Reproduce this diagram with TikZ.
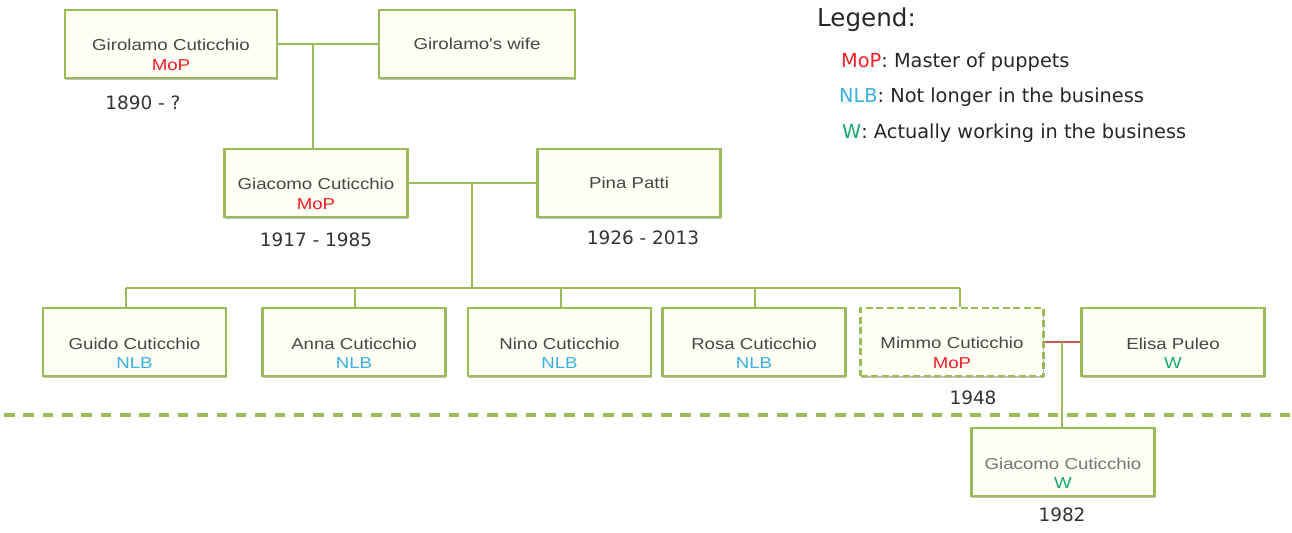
\documentclass[tikz,border=0pt]{standalone}
\usepackage{fontspec}
\setmainfont{Liberation Sans}
\newfontfamily\boxfont[FakeStretch=1.18]{Liberation Sans}
\newfontfamily\legfont{DejaVu Sans}
\usetikzlibrary{shadows}
\definecolor{boxgreen}{RGB}{155,187,89}
\definecolor{boxfill}{RGB}{255,255,246}
\definecolor{mopred}{RGB}{240,30,40}
\definecolor{nlbblue}{RGB}{60,176,226}
\definecolor{wgreen}{RGB}{20,168,110}
\definecolor{txtgray}{RGB}{70,70,70}
\definecolor{linkred}{RGB}{200,90,80}
\tikzset{
  person/.style={draw=boxgreen, line width=1.3pt, fill=boxfill, minimum width=3.66cm,
    minimum height=1.36cm, align=center, text=txtgray,
    font=\boxfont\fontsize{9}{11}\selectfont,
    drop shadow={shadow xshift=0.4pt, shadow yshift=-1.3pt, fill=black!50, opacity=0.5}},
  year/.style={font=\legfont\fontsize{10.5}{12}\selectfont, text=black!80},
  legline/.style={anchor=west, font=\legfont\fontsize{11}{13}\selectfont, text=black!85},
  link/.style={draw=boxgreen, line width=1pt},
  coupleline/.style={draw=linkred, line width=0.8pt},
  divider/.style={draw=boxgreen, line width=2pt, dash pattern=on 6pt off 5pt},
}
\newcommand{\mop}{{\color{mopred}MoP}}
\newcommand{\nlb}{{\color{nlbblue}NLB}}
\newcommand{\wrk}{{\color{wgreen}W}}
\newcommand{\who}[2]{\rule{0pt}{19pt}#1\\#2}
\begin{document}
\begin{tikzpicture}[x=0.02cm, y=-0.02cm]
  \useasboundingbox (0,0) rectangle (1292,533);
  % first generation
  \node[person, minimum width=4.24cm] (gir) at (171,44) {\who{Girolamo Cuticchio}{\mop}};
  \node[person, minimum width=3.92cm] (wife) at (477,44) {Girolamo's wife};
  \node[year] (ygir) at (143,103) {1890 - ?};
  % second generation
  \node[person] (giac) at (316,183) {\who{Giacomo Cuticchio}{\mop}};
  \node[person] (pina) at (629,183) {Pina Patti};
  \node[year] (ygiac) at (316,240) {1917 - 1985};
  \node[year] (ypina) at (643,238) {1926 - 2013};
  % children
  \node[person] (guido) at (134.5,342) {\who{Guido Cuticchio}{\nlb}};
  \node[person] (anna) at (354,342) {\who{Anna Cuticchio}{\nlb}};
  \node[person] (nino) at (559.5,342) {\who{Nino Cuticchio}{\nlb}};
  \node[person] (rosa) at (754,342) {\who{Rosa Cuticchio}{\nlb}};
  \node[person, dash pattern=on 4pt off 2pt, line width=1.6pt] (mimmo) at (952,342) {\who{Mimmo Cuticchio}{\mop}};
  \node[person] (elisa) at (1173,342) {\who{Elisa Puleo}{\wrk}};
  \node[year] (ymimmo) at (973,398) {1948};
  \node[person, text=black!55] (giacjr) at (1063,462) {\who{Giacomo Cuticchio}{\wrk}};
  \node[year] (ygiacjr) at (1062,515) {1982};
  % legend
  \node[legline, font=\legfont\fontsize{14}{16}\selectfont] (leg) at (811,20) {Legend:};
  \node[legline] (legmop) at (835,62) {\mop: Master of puppets};
  \node[legline] (legnlb) at (833,97) {\nlb: Not longer in the business};
  \node[legline] (legw) at (836,133) {\wrk: Actually working in the business};
  % connectors
  \coordinate (c1) at (313,44);
  \coordinate (c2) at (472,183);
  \coordinate (bar) at (472,288);
  \coordinate (c3) at (1062,342);
  \draw[link] (gir.east) -- (wife.west);
  \draw[link] (c1) -- (c1 |- giac.north);
  \draw[link] (giac.east) -- (pina.west);
  \draw[link] (c2) -- (bar);
  \foreach \kid/\xx in {guido/126, anna/355, nino/561, rosa/755, mimmo/960}{
    \coordinate (top\kid) at (\xx,288);
    \draw[link] (top\kid) -- (top\kid |- \kid.north);
  }
  \draw[link] (topguido) -- (topmimmo);
  \draw[coupleline] (mimmo.east) -- (elisa.west);
  \draw[link] (c3) -- (c3 |- giacjr.north);
  % divider
  \coordinate (dl) at (4,415);
  \coordinate (dr) at (1292,415);
  \draw[divider] (dl) -- (dr);
\end{tikzpicture}
\end{document}
